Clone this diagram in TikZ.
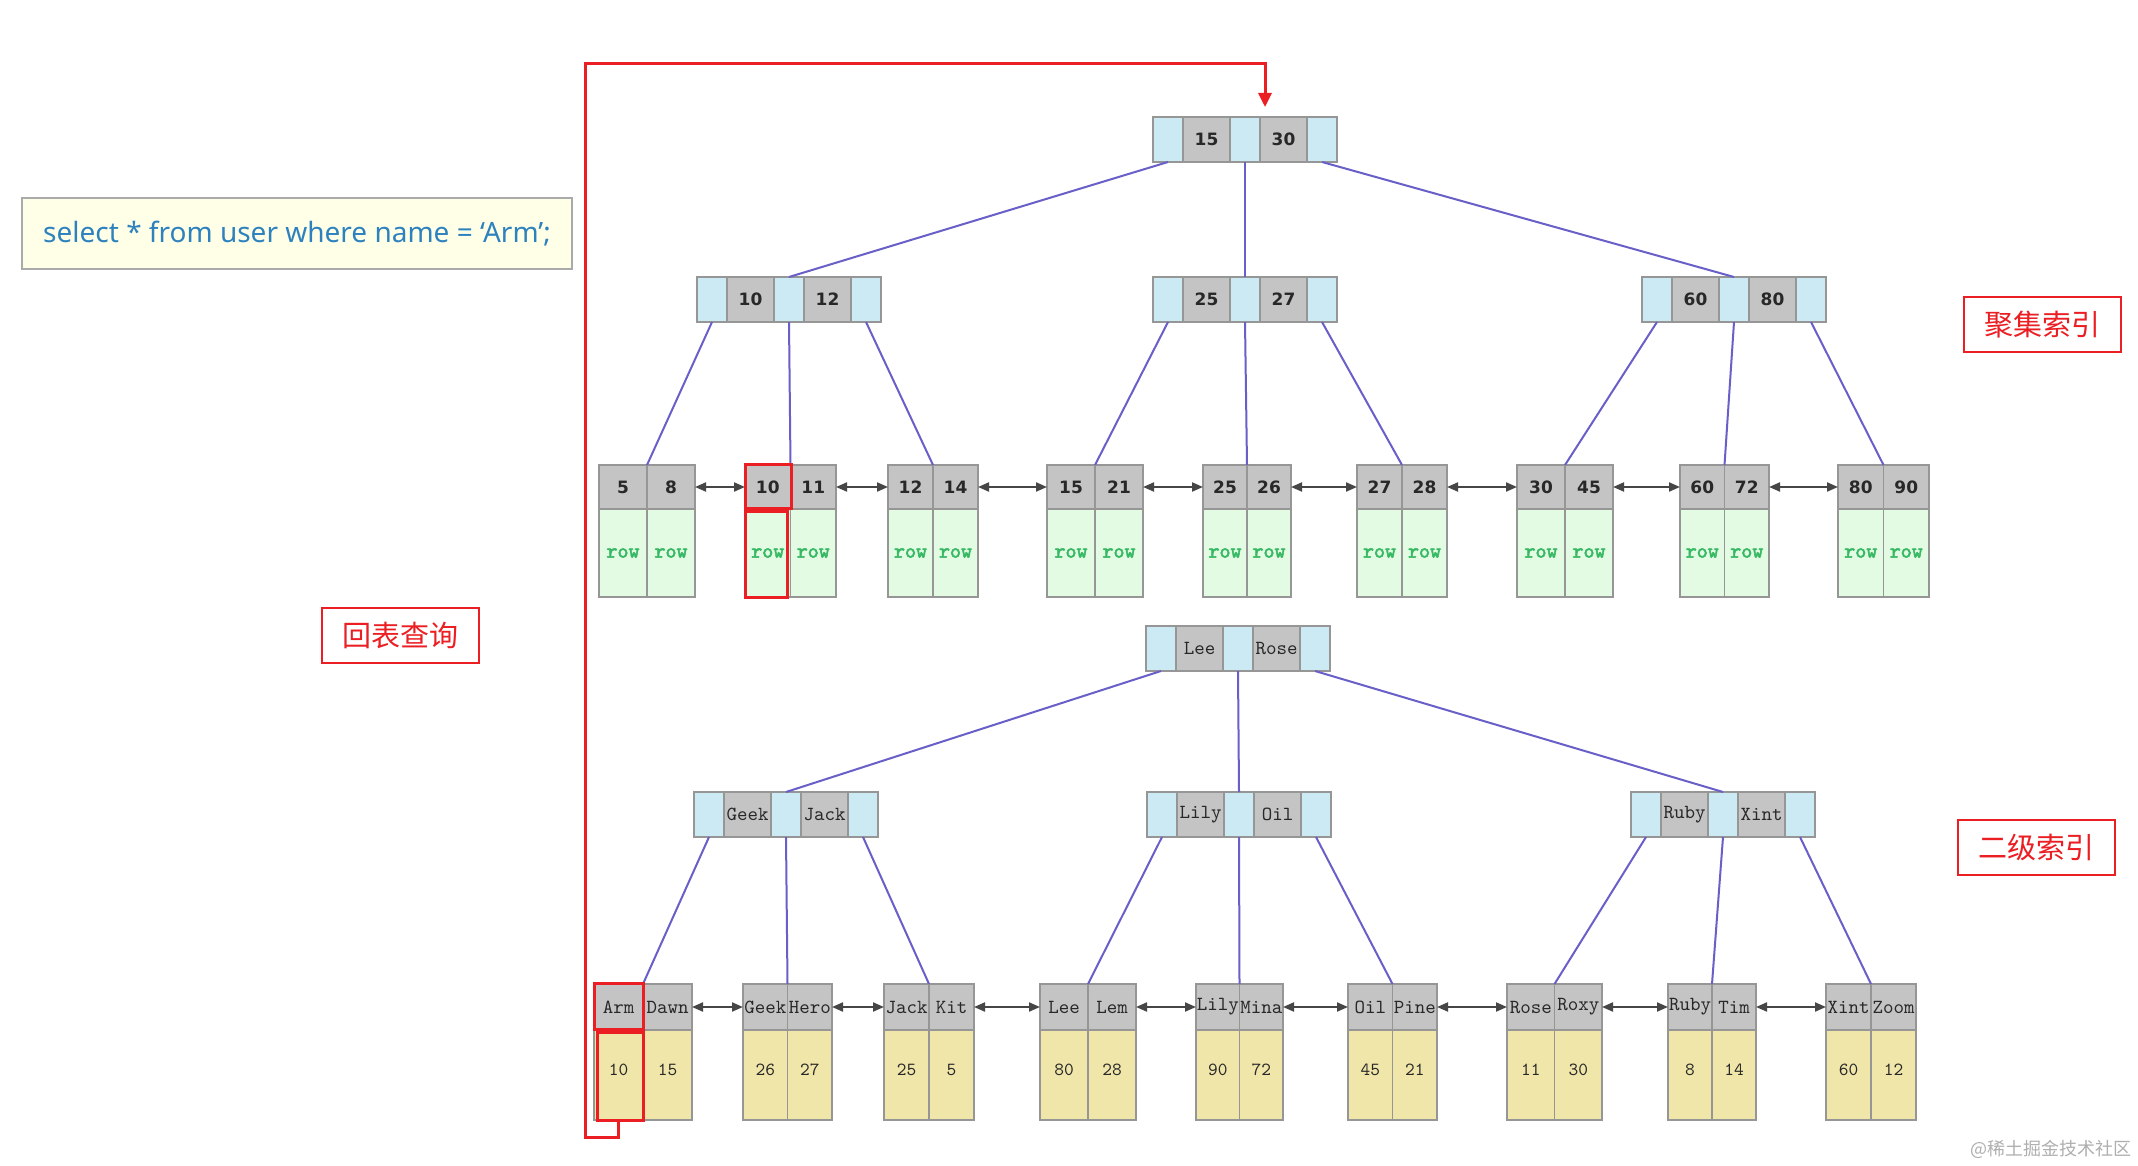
\documentclass[tikz,border=0pt]{standalone}
\usepackage{fontspec}
\usetikzlibrary{arrows.meta}
\newfontfamily\cjk{Noto Sans CJK SC}
\newfontfamily\sqlfont{Noto Sans}
\newfontfamily\keyfont{DejaVu Sans}
\newfontfamily\monofont{lmmono10-regular.otf}
\newfontfamily\rowfont{lmmono10-regular.otf}[FakeBold=2.5]

\definecolor{ptrblue}{RGB}{204,234,243}
\definecolor{keygrey}{RGB}{196,196,196}
\definecolor{cellline}{RGB}{150,150,150}
\definecolor{rowgreen}{RGB}{226,251,226}
\definecolor{rowtext}{RGB}{55,185,100}
\definecolor{valyellow}{RGB}{240,230,170}
\definecolor{edgeblue}{RGB}{105,95,200}
\definecolor{arrowgrey}{RGB}{70,70,70}
\definecolor{hired}{RGB}{235,30,35}
\definecolor{sqlblue}{RGB}{45,130,190}
\definecolor{sqlfill}{RGB}{255,255,232}
\definecolor{sqlline}{RGB}{170,170,170}
\definecolor{txtdark}{RGB}{40,40,40}
\definecolor{wmgrey}{RGB}{175,175,175}

\tikzset{
 cell/.style={rectangle, draw=cellline, line width=1.5pt, inner sep=0pt, outer sep=0pt},
 ptr/.style={cell, fill=ptrblue, minimum width=30, minimum height=45},
 keyc/.style={cell, fill=keygrey, minimum width=47, minimum height=45, text=txtdark},
 numtxt/.style={font=\keyfont\bfseries\fontsize{17}{17}\selectfont},
 nametxt/.style={font=\monofont\fontsize{20}{20}\selectfont},
 lkey/.style={cell, fill=keygrey, text=txtdark},
 rowc/.style={cell, fill=rowgreen, minimum height=88, text=rowtext, font=\rowfont\fontsize{21}{21}\selectfont},
 valc/.style={cell, fill=valyellow, minimum height=90, text=txtdark, font=\monofont\fontsize{18.5}{18.5}\selectfont, text height=11pt, text depth=10pt},
 tedge/.style={draw=edgeblue, line width=2pt},
 larrow/.style={draw=arrowgrey, line width=2pt, {Triangle[length=11pt,width=9pt]}-{Triangle[length=11pt,width=9pt]}},
 redbox/.style={draw=hired, line width=3pt},
 redline/.style={draw=hired, line width=3pt, -{Triangle[length=14pt,width=13pt]}},
 cjkbox/.style={rectangle, draw=hired, line width=1.5pt, text=hired, font=\cjk\fontsize{29}{29}\selectfont, minimum width=157, minimum height=55, inner sep=0pt},
 sqlbox/.style={rectangle, draw=sqlline, line width=1.5pt, fill=sqlfill, text=sqlblue, font=\sqlfont\fontsize{28}{28}\selectfont, minimum width=550, minimum height=71, inner sep=0pt},
}

\newcommand{\inode}[6]{%
 \node[ptr, anchor=north west] (#1p1) at (#2,#3) {};
 \node[keyc, #6, anchor=west] (#1k1) at (#1p1.east) {#4};
 \node[ptr, anchor=west] (#1p2) at (#1k1.east) {};
 \node[keyc, #6, anchor=west] (#1k2) at (#1p2.east) {#5};
 \node[ptr, anchor=west] (#1p3) at (#1k2.east) {};
}
\newcommand{\cleaf}[5]{%
 \pgfmathsetmacro\leafw{(#3-#2)/2}%
 \node[lkey, numtxt, minimum width=\leafw, minimum height=44, anchor=north west] (#1k1) at (#2,465) {#4};
 \node[lkey, numtxt, minimum width=\leafw, minimum height=44, anchor=north west] (#1k2) at (#1k1.north east) {#5};
 \node[rowc, minimum width=\leafw, anchor=north] (#1v1) at (#1k1.south) {row};
 \node[rowc, minimum width=\leafw, anchor=north] (#1v2) at (#1k2.south) {row};
}
\newcommand{\sleaf}[7]{%
 \pgfmathsetmacro\leafw{(#3-#2)/2}%
 \node[lkey, nametxt, minimum width=\leafw, minimum height=46, anchor=north west] (#1k1) at (#2,984) {#4};
 \node[lkey, nametxt, minimum width=\leafw, minimum height=46, anchor=north west] (#1k2) at (#1k1.north east) {#5};
 \node[valc, minimum width=\leafw, anchor=north] (#1v1) at (#1k1.south) {#6};
 \node[valc, minimum width=\leafw, anchor=north] (#1v2) at (#1k2.south) {#7};
}

\begin{document}
\begin{tikzpicture}[x=1pt,y=-1pt]
\fill[white] (0,0) rectangle (2138,1166);
\useasboundingbox (0,0) rectangle (2138,1166);

% clustered index
\inode{CT}{1153}{117}{15}{30}{numtxt}
\inode{CA}{697}{277}{10}{12}{numtxt}
\inode{CB}{1153}{277}{25}{27}{numtxt}
\inode{CC}{1642}{277}{60}{80}{numtxt}
\cleaf{CL1}{599}{695}{5}{8}
\cleaf{CL2}{745}{836}{10}{11}
\cleaf{CL3}{888}{978}{12}{14}
\cleaf{CL4}{1047}{1143}{15}{21}
\cleaf{CL5}{1203}{1291}{25}{26}
\cleaf{CL6}{1357}{1447}{27}{28}
\cleaf{CL7}{1517}{1613}{30}{45}
\cleaf{CL8}{1680}{1769}{60}{72}
\cleaf{CL9}{1838}{1929}{80}{90}

% secondary index
\inode{ST}{1146}{626}{Lee}{Rose}{nametxt}
\inode{SA}{694}{792}{Geek}{Jack}{nametxt}
\inode{SB}{1147}{792}{Lily}{Oil}{nametxt}
\inode{SC}{1631}{792}{Ruby}{Xint}{nametxt}
\sleaf{SL1}{594}{692}{Arm}{Dawn}{10}{15}
\sleaf{SL2}{743}{832}{Geek}{Hero}{26}{27}
\sleaf{SL3}{884}{974}{Jack}{Kit}{25}{5}
\sleaf{SL4}{1040}{1136}{Lee}{Lem}{80}{28}
\sleaf{SL5}{1196}{1283}{Lily}{Mina}{90}{72}
\sleaf{SL6}{1348}{1437}{Oil}{Pine}{45}{21}
\sleaf{SL7}{1507}{1602}{Rose}{Roxy}{11}{30}
\sleaf{SL8}{1668}{1756}{Ruby}{Tim}{8}{14}
\sleaf{SL9}{1826}{1916}{Xint}{Zoom}{60}{12}

% tree edges
\foreach \t in {C,S}{
 \draw[tedge] (\t Tp1.south) -- (\t Ap2.north);
 \draw[tedge] (\t Tp2.south) -- (\t Bp2.north);
 \draw[tedge] (\t Tp3.south) -- (\t Cp2.north);
 \draw[tedge] (\t Ap1.south) -- (\t L1k1.north east);
 \draw[tedge] (\t Ap2.south) -- (\t L2k1.north east);
 \draw[tedge] (\t Ap3.south) -- (\t L3k1.north east);
 \draw[tedge] (\t Bp1.south) -- (\t L4k1.north east);
 \draw[tedge] (\t Bp2.south) -- (\t L5k1.north east);
 \draw[tedge] (\t Bp3.south) -- (\t L6k1.north east);
 \draw[tedge] (\t Cp1.south) -- (\t L7k1.north east);
 \draw[tedge] (\t Cp2.south) -- (\t L8k1.north east);
 \draw[tedge] (\t Cp3.south) -- (\t L9k1.north east);
}

% leaf links
\foreach \i [evaluate=\i as \j using int(\i+1)] in {1,...,8}{
 \draw[larrow] (CL\i k2.east) -- (CL\j k1.west);
 \draw[larrow] (SL\i k2.east) -- (SL\j k1.west);
}

% highlights
\draw[redbox] ([shift={(0,-1)}]CL2k1.north west) rectangle ([shift={(1,-1)}]CL2k1.south east);
\draw[redbox] ([shift={(0,2)}]CL2v1.north west) rectangle ([shift={(-3,0)}]CL2v1.south east);
\draw[redbox] ([shift={(0,-1)}]SL1k1.north west) rectangle ([shift={(0,-1)}]SL1k1.south east);
\draw[redbox] ([shift={(3,2)}]SL1v1.north west) rectangle (SL1v1.south east);

% back-to-table path
\coordinate (rb) at (585,1137);
\coordinate (rt) at (585,64);
\coordinate (tip) at (1265,107);
\draw[redline] (SL1v1.south) |- (rb) -- (rt) -| (tip);

% labels
\node[sqlbox] (sql) at (297,233.5) {select * from user where name = ‘Arm’;};
\node[cjkbox] (lab1) at (2042.5,324.5) {聚集索引};
\node[cjkbox] (lab2) at (400.5,635.5) {回表查询};
\node[cjkbox] (lab3) at (2036.5,847.5) {二级索引};
\node[anchor=east, text=wmgrey, font=\cjk\fontsize{18}{18}\selectfont, inner sep=0pt] (wm) at (2132,1149) {@稀土掘金技术社区};
\end{tikzpicture}
\end{document}
